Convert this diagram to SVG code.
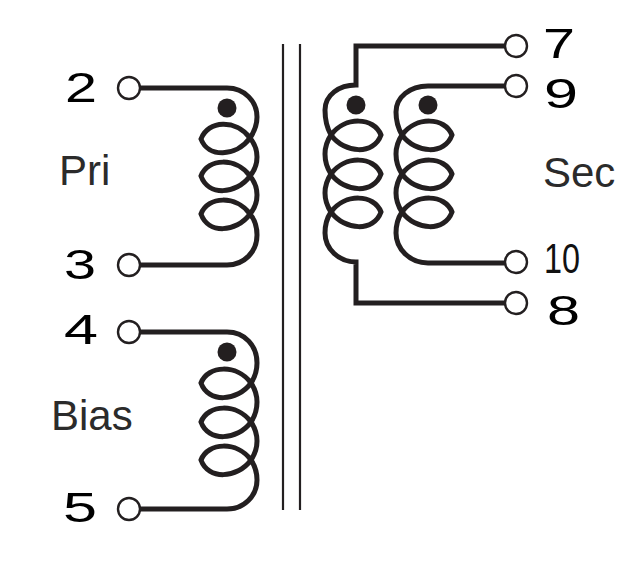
<svg xmlns="http://www.w3.org/2000/svg" width="630" height="577" viewBox="0 0 630 577">
<style>
.w{fill:none;stroke:#231f20;stroke-width:5;stroke-linejoin:miter}
.t{fill:#fff;stroke:#231f20;stroke-width:2.4}
.d{fill:#231f20}
.c{stroke:#231f20;stroke-width:2.2;fill:none}
.n{font-family:"Liberation Sans",Arial,sans-serif;font-size:43px;fill:#000}
.l{font-family:"Liberation Sans",Arial,sans-serif;font-size:42px;fill:#2b2b2b}
</style>
<rect width="630" height="577" fill="#fff"/>
<g id="connectors">
<path class="c" d="M283 44V510M300 44V510"/>
<path id="pri-wire" class="w" d="M140 88H227C245 88 257 102 257 117C257 125 254 132 250 138C236 119 208 120 201 139C208 158 236 157 250 138C255 144 257 150 257 157C257 164 255 170 250 176C236 157 208 158 201 176C208 196 236 195 250 176C255 182 257 188 257 195C257 202 255 208 250 214C236 195 208 196 201 214C208 234 236 233 250 214C255 220 257 227 257 235C257 252 244 265 227 265H140"/>
<path id="bias-wire" class="w" d="M140 332H227C245 332 257 346 257 363C257 370 255 377 251 383C237 364 208 365 201 383C208 403 237 402 251 383C255 389 257 395 257 402C257 410 255 416 251 422C237 403 208 404 201 422C208 442 237 441 251 422C255 428 257 434 257 441C257 448 255 454 251 460C237 441 208 442 201 460C208 480 237 479 251 460C255 466 257 473 257 480C257 496 244 509 227 509H140"/>
<path id="sec-outer-wire" class="w" d="M505 46H356V85C339 85 325 95 325 110C325 120 327 128 331 135C345 116 374 117 381 135C374 155 345 154 331 135C327 141 325 147 325 154C325 161 327 168 331 174C345 155 374 156 381 174C374 194 345 193 331 174C327 180 325 186 325 193C325 200 327 206 331 212C345 193 374 194 381 212C374 232 345 231 331 212C327 218 325 225 325 233C325 249 339 262 356 262V303H505"/>
<path id="sec-inner-wire" class="w" d="M505 86H428C410 86 396 97 396 112C396 121 398 128 402 135C416 116 445 117 452 135C445 155 416 154 402 135C398 141 396 147 396 154C396 161 398 168 402 174C416 155 445 156 452 174C445 194 416 193 402 174C398 180 396 186 396 193C396 200 398 206 402 212C416 193 445 194 452 212C445 232 416 231 402 212C398 218 396 225 396 233C396 249 410 263 428 263H505"/>
</g>
<g id="node-pri"><circle class="d" cx="227" cy="108" r="9.5"/><text class="l" x="59" y="185">Pri</text></g>
<g id="node-bias"><circle class="d" cx="227" cy="352" r="9.5"/><text class="l" x="51" y="430">Bias</text></g>
<g id="node-sec"><circle class="d" cx="356" cy="105" r="9.5"/><circle class="d" cx="428" cy="105" r="9.5"/><text class="l" x="543" y="187">Sec</text></g>
<g id="pin-2"><circle class="t" cx="129" cy="88" r="11"/><text class="n" x="65" y="102" textLength="32" lengthAdjust="spacingAndGlyphs">2</text></g>
<g id="pin-3"><circle class="t" cx="129" cy="265" r="11"/><text class="n" x="64" y="279" textLength="32" lengthAdjust="spacingAndGlyphs">3</text></g>
<g id="pin-4"><circle class="t" cx="129" cy="332" r="11"/><text class="n" x="64" y="344" textLength="34" lengthAdjust="spacingAndGlyphs">4</text></g>
<g id="pin-5"><circle class="t" cx="129" cy="509" r="11"/><text class="n" x="63" y="522" textLength="34" lengthAdjust="spacingAndGlyphs">5</text></g>
<g id="pin-7"><circle class="t" cx="516" cy="46" r="11"/><text class="n" x="543" y="58" textLength="32" lengthAdjust="spacingAndGlyphs">7</text></g>
<g id="pin-9"><circle class="t" cx="516" cy="86" r="11"/><text class="n" x="544" y="108" textLength="34" lengthAdjust="spacingAndGlyphs">9</text></g>
<g id="pin-10"><circle class="t" cx="516" cy="262" r="11"/><text x="544" y="273" textLength="36" lengthAdjust="spacingAndGlyphs" style="font-family:'Liberation Sans',Arial,sans-serif;font-size:42px;fill:#111">10</text></g>
<g id="pin-8"><circle class="t" cx="516" cy="303" r="11"/><text class="n" x="547" y="325" textLength="33" lengthAdjust="spacingAndGlyphs">8</text></g>
</svg>
